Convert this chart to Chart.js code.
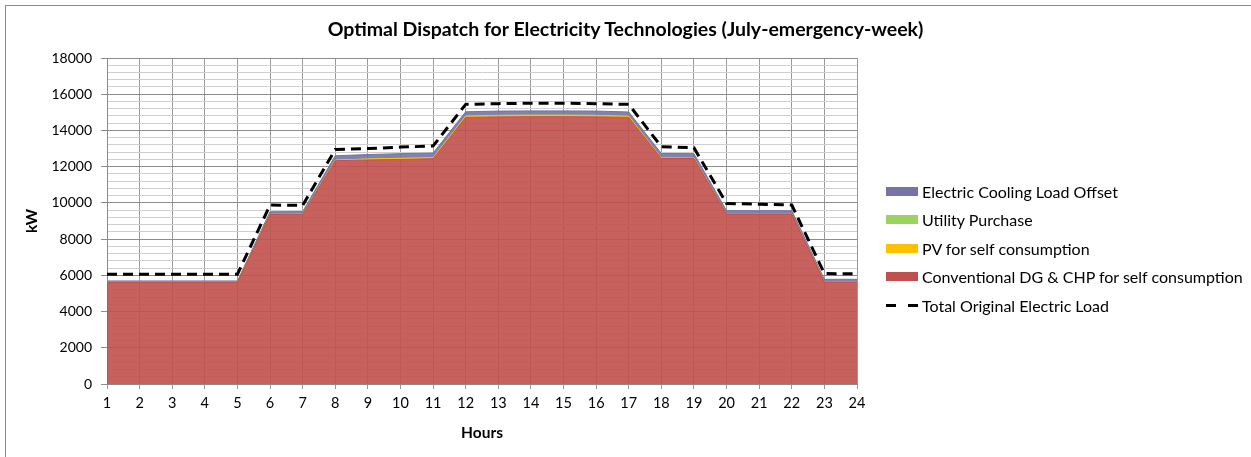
<!DOCTYPE html>
<html>
<head>
<meta charset="utf-8">
<script src="https://cdn.jsdelivr.net/npm/chart.js@4.4.1/dist/chart.umd.min.js"></script>
<style>
  body { margin: 0; background: #fff; }
  #wrap { position: relative; width: 1251px; height: 457px; overflow: hidden; }
  #frame { position: absolute; left: 5px; top: 5px; width: 1260px; height: 470px; border: 1px solid #8a8a8a; box-sizing: border-box; }
  #title { position: absolute; left: 0; width: 1251px; top: 17px; text-align: center;
           font: bold 19.5px Lato, sans-serif; color: #000; }
  #legend { position: absolute; left: 886px; top: 177px; font: 16px Lato, sans-serif; color: #000; }
  .item { height: 28.5px; display: flex; align-items: center; }
  .sw { width: 32px; height: 9px; margin-right: 4px; }
  .dash { width: 32px; height: 3px; margin-right: 4px;
          background: linear-gradient(90deg, #000 0 10px, transparent 10px 22px, #000 22px 32px); }
  canvas { position: absolute; left: 0; top: 0; }
</style>
</head>
<body>
<div id="wrap">
  <div id="frame"></div>
  <canvas id="chart" width="1251" height="457"></canvas>
  <div id="title">Optimal Dispatch for Electricity Technologies (July-emergency-week)</div>
  <div id="legend"></div>
</div>
<script>
const hours = ['1','2','3','4','5','6','7','8','9','10','11','12','13','14','15','16','17','18','19','20','21','22','23','24'];

const conventional = [5630, 5630, 5630, 5630, 5630, 9370, 9370, 12330, 12370, 12400, 12440, 14720,
                      14750, 14760, 14760, 14750, 14720, 12450, 12450, 9380, 9380, 9380, 5630, 5630];
const pv = [0, 0, 0, 0, 0, 0, 10, 30, 50, 60, 50, 70, 80, 80, 80, 80, 60, 30, 20, 0, 0, 0, 0, 0];
const utility = [0, 0, 0, 0, 0, 0, 0, 0, 0, 0, 0, 0, 0, 0, 0, 0, 0, 0, 0, 0, 0, 0, 0, 0];
const cooling = [60, 60, 60, 60, 60, 140, 140, 240, 250, 260, 260, 240,
                 240, 240, 240, 240, 240, 250, 250, 190, 190, 190, 150, 150];
const totalLoad = [6060, 6060, 6060, 6060, 6060, 9880, 9860, 12950, 13000, 13080, 13140, 15440,
                   15480, 15500, 15500, 15480, 15440, 13100, 13040, 9970, 9930, 9880, 6100, 6080];

const yTicks = ['0', '2000', '4000', '6000', '8000', '10000', '12000', '14000', '16000', '18000'];

const colors = {
  cooling: '#7474a6',
  utility: '#9bd35f',
  pv: '#ffc000',
  conventional: '#c0504d'
};

const legendItems = [
  { label: 'Electric Cooling Load Offset', color: colors.cooling },
  { label: 'Utility Purchase', color: colors.utility },
  { label: 'PV for self consumption', color: colors.pv },
  { label: 'Conventional DG & CHP for self consumption', color: colors.conventional },
  { label: 'Total Original Electric Load', dash: true }
];

const legend = document.getElementById('legend');
legendItems.forEach(it => {
  const row = document.createElement('div');
  row.className = 'item';
  const sw = document.createElement('div');
  if (it.dash) {
    sw.className = 'dash';
  } else {
    sw.className = 'sw';
    sw.style.background = it.color;
  }
  const txt = document.createElement('span');
  txt.textContent = it.label;
  row.appendChild(sw);
  row.appendChild(txt);
  legend.appendChild(row);
});

function area(label, data, color, fill) {
  return {
    label: label,
    data: data,
    backgroundColor: color + 'e6',
    borderColor: color,
    borderWidth: 1,
    pointRadius: 0,
    fill: fill,
    stack: 'supply',
    order: 1,
    tension: 0
  };
}

const ctx = document.getElementById('chart').getContext('2d');
new Chart(ctx, {
  type: 'line',
  data: {
    labels: hours,
    datasets: [
      area('Conventional DG & CHP for self consumption', conventional, colors.conventional, 'origin'),
      area('PV for self consumption', pv, colors.pv, '-1'),
      area('Utility Purchase', utility, colors.utility, '-1'),
      area('Electric Cooling Load Offset', cooling, colors.cooling, '-1'),
      {
        label: 'Total Original Electric Load',
        data: totalLoad,
        borderColor: '#000',
        borderWidth: 3,
        borderDash: [10, 6],
        pointRadius: 0,
        fill: false,
        stack: 'total',
        order: 0,
        tension: 0
      }
    ]
  },
  options: {
    responsive: false,
    animation: false,
    layout: { padding: { top: 58, right: 394, left: 0, bottom: 0 } },
    plugins: {
      legend: { display: false },
      title: { display: false },
      tooltip: { enabled: false }
    },
    scales: {
      x: {
        offset: false,
        afterFit: s => { s.height = 73; },
        grid: { color: '#9a9a9a', tickLength: 5, tickColor: '#9a9a9a' },
        border: { color: '#8a8a8a' },
        ticks: { color: '#000', font: { family: 'Lato', size: 14.5 }, padding: 6, maxRotation: 0, autoSkip: false },
        title: { display: true, text: 'Hours', color: '#000',
                 font: { family: 'Lato', size: 15.5, weight: 'bold' }, padding: { top: 0, bottom: 15 } }
      },
      y: {
        stacked: true,
        min: 0,
        max: 18000,
        afterFit: s => { s.width = 107; },
        afterBuildTicks: s => {
          const t = [];
          for (let v = 0; v <= 18000; v += 400) t.push({ value: v });
          s.ticks = t;
        },
        grid: {
          color: c => (c.tick && c.tick.value % 2000 === 0) ? '#8c8c8c' : '#cfcfcf',
          tickColor: c => (c.tick && c.tick.value % 2000 === 0) ? '#8c8c8c' : 'rgba(0,0,0,0)',
          tickLength: 6
        },
        border: { color: '#8a8a8a' },
        ticks: {
          color: '#000',
          font: { family: 'Lato', size: 14 },
          padding: 9,
          autoSkip: false,
          callback: v => yTicks.includes(String(v)) ? String(v) : ''
        },
        title: { display: true, text: 'kW', color: '#000',
                 font: { family: 'Lato', size: 15.5, weight: 'bold' }, padding: { top: 23, bottom: 0 } }
      }
    }
  }
});
</script>
</body>
</html>
